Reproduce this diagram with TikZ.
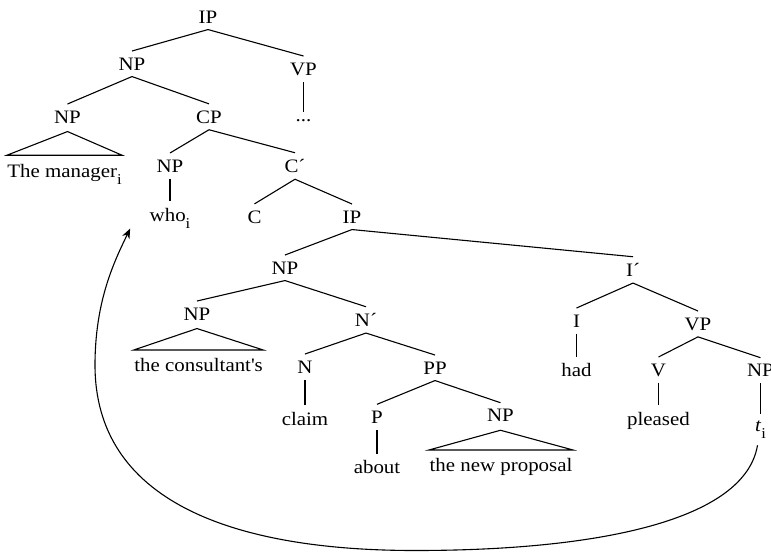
\documentclass[tikz,border=0pt]{standalone}
\usepackage{fontspec}
\setmainfont{Liberation Serif}[FakeStretch=1.1]
\usetikzlibrary{arrows.meta}
\newcommand{\idx}[1]{\raisebox{-7pt}{\fontsize{15}{15}\selectfont #1}}

\begin{document}
\begin{tikzpicture}[x=1pt,y=-1pt,line width=1.1pt,
  every node/.style={inner xsep=0pt,inner ysep=6pt,anchor=base},
  font=\fontsize{19}{22}\selectfont]
\useasboundingbox (0,0) rectangle (771,552);
\clip (0,0) rectangle (771,552);

% Upper part
\node (ip0) at (208,23) {IP};
\node (np0) at (132,70) {NP};
\node (vp0) at (303.5,75) {VP};
\node (np1) at (67.5,123) {NP};
\node (cp) at (209,123) {CP};
\node (dots) at (303.5,121) {...};
\node (mgr) at (64.5,177) {The manager\idx{i}};
\node (npw) at (170,172) {NP};
\node (cbar) at (295,172.5) {C´};
\node (who) at (170,221) {who\idx{i}};
\node (c) at (254.5,223) {C};
\node (ip2) at (352,223) {IP};

% Relative clause
\node (np2) at (285,274) {NP};
\node (ibar) at (633,276.5) {I´};
\node (npc) at (197,320) {NP};
\node (nbar) at (366,326.5) {N´};
\node (cons) at (198.5,371.7) {the consultant\textquotesingle s};
\node (n) at (305,373) {N};
\node (pp) at (435,374) {PP};
\node (claim) at (305,425) {claim};
\node (p) at (377,423.3) {P};
\node (npp) at (500.5,421.7) {NP};
\node (about) at (377,473.3) {about};
\node (prop) at (501,471.7) {the new proposal};
\node (i1) at (576.5,327) {I};
\node (vp2) at (698,330) {VP};
\node (had) at (576.5,376.7) {had};
\node (v) at (658.5,376) {V};
\node (npt) at (760.5,376.7) {NP};
\node (pleased) at (658.5,425) {pleased};
\node (ti) at (760.5,431.7) {\textit{t}\idx{i}};

% Branches
\draw (ip0.south) -- (np0.north);
\draw (ip0.south) -- (vp0.north);
\draw (np0.south) -- (np1.north);
\draw (np0.south) -- (cp.north);
\draw (vp0.south) -- (dots.north);
\draw (cp.south) -- (npw.north);
\draw (cp.south) -- (cbar.north);
\draw (npw.south) -- (who.north);
\draw (cbar.south) -- (c.north);
\draw (cbar.south) -- (ip2.north);
\draw (ip2.south) -- (np2.north);
\draw (ip2.south) -- (ibar.north);
\draw (np2.south) -- (npc.north);
\draw (np2.south) -- (nbar.north);
\draw (nbar.south) -- (n.north);
\draw (nbar.south) -- (pp.north);
\draw (n.south) -- (claim.north);
\draw (pp.south) -- (p.north);
\draw (pp.south) -- (npp.north);
\draw (p.south) -- (about.north);
\draw (ibar.south) -- (i1.north);
\draw (ibar.south) -- (vp2.north);
\draw (i1.south) -- (had.north);
\draw (vp2.south) -- (v.north);
\draw (vp2.south) -- (npt.north);
\draw (v.south) -- (pleased.north);
\draw (npt.south) -- (ti.north);

% Triangles
\draw ([yshift=-2pt]np1.south) -- ([yshift=2pt]mgr.north west) -- ([yshift=2pt]mgr.north east) -- cycle;
\draw ([yshift=-2pt]npc.south) -- ([yshift=2pt]cons.north west) -- ([yshift=2pt]cons.north east) -- cycle;
\draw ([yshift=-2pt]npp.south) -- ([yshift=2pt]prop.north west) -- ([yshift=2pt]prop.north east) -- cycle;

% Movement arrow
\draw[-{Stealth[length=10pt,width=8pt]}] ([xshift=-3pt]ti.south)
  .. controls (745,520) and (600,550.5) .. (415,550.5)
  .. controls (230,550.5) and (95,500) .. (95,365)
  .. controls (95,300) and (115,260) .. ([xshift=-19pt,yshift=6pt]who.south west);
\end{tikzpicture}
\end{document}
